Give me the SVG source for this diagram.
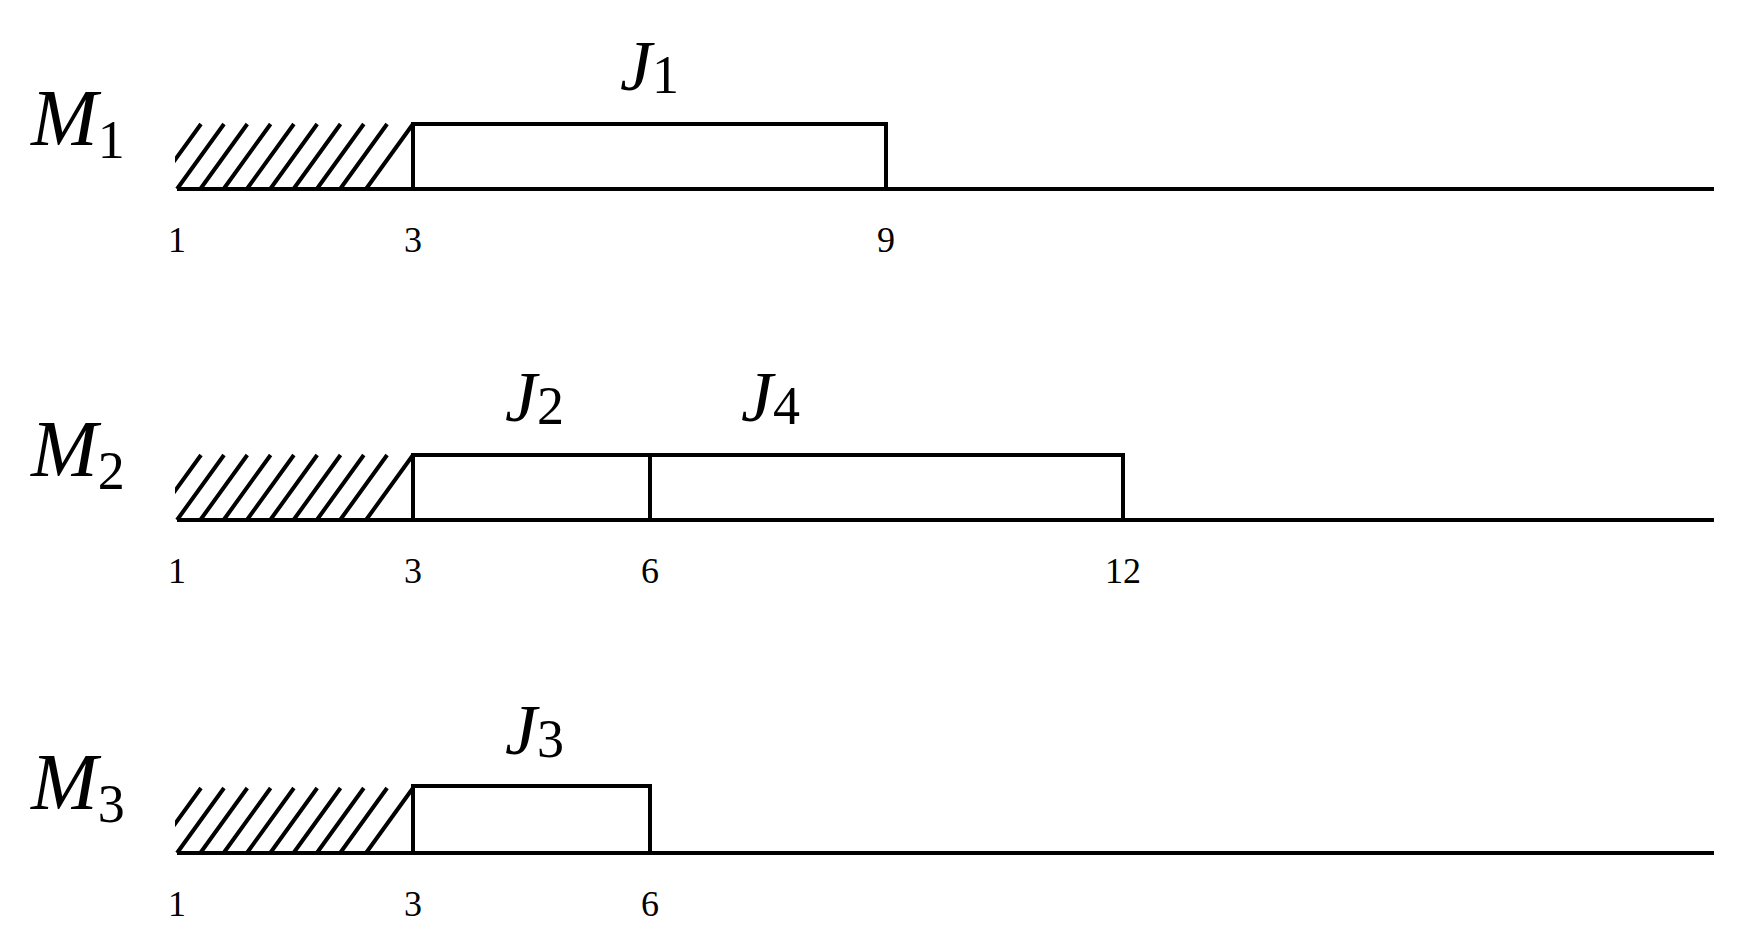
<svg xmlns="http://www.w3.org/2000/svg" width="1741" height="934" viewBox="0 0 1741 934">
<defs>
<style>
.ln{stroke:#000;stroke-width:4;fill:none}
.bx{stroke:#000;stroke-width:4;fill:#fff}
.m{font-family:"Liberation Serif",serif;font-style:italic;font-size:80px}
.j{font-family:"Liberation Serif",serif;font-style:italic;font-size:72px}
.sub{font-family:"Liberation Serif",serif;font-style:normal;font-size:54px}
.t{font-family:"Liberation Serif",serif;font-size:36px;text-anchor:middle}
</style>
<clipPath id="hc"><rect x="175" y="120" width="240" height="72"/></clipPath>
<g id="hatch" class="ln" clip-path="url(#hc)">
<path d="M154,189 L201,124 M177,189 L224,124 M200.3,189 L247.3,124 M223.6,189 L270.6,124 M246.9,189 L293.9,124 M270.2,189 L317.2,124 M293.5,189 L340.5,124 M316.8,189 L363.8,124 M340.1,189 L387.1,124 M366,189 L413,124"/>
</g>
</defs>
<rect width="1741" height="934" fill="#fff"/>
<g id="M1">
<text class="m" x="31" y="145">M<tspan class="sub" dy="13">1</tspan></text>
<use href="#hatch"/>
<line class="ln" x1="177" y1="189" x2="1714" y2="189"/>
<rect id="J1" class="bx" x="413" y="124" width="473" height="65"/>
<text class="j" x="620" y="90">J<tspan class="sub" dy="3">1</tspan></text>
<text class="t" x="177" y="252">1</text><text class="t" x="413" y="252">3</text><text class="t" x="886" y="252">9</text>
</g>
<g id="M2">
<text class="m" x="31" y="476">M<tspan class="sub" dy="13">2</tspan></text>
<use href="#hatch" y="331"/>
<line class="ln" x1="177" y1="520" x2="1714" y2="520"/>
<rect id="J2" class="bx" x="413" y="455" width="237" height="65"/>
<rect id="J4" class="bx" x="650" y="455" width="473" height="65"/>
<text class="j" x="505" y="421">J<tspan class="sub" dy="3">2</tspan></text>
<text class="j" x="741" y="421">J<tspan class="sub" dy="3">4</tspan></text>
<text class="t" x="177" y="583">1</text><text class="t" x="413" y="583">3</text><text class="t" x="650" y="583">6</text><text class="t" x="1123" y="583">12</text>
</g>
<g id="M3">
<text class="m" x="31" y="809">M<tspan class="sub" dy="13">3</tspan></text>
<use href="#hatch" y="664"/>
<line class="ln" x1="177" y1="853" x2="1714" y2="853"/>
<rect id="J3" class="bx" x="413" y="786" width="237" height="67"/>
<text class="j" x="505" y="754">J<tspan class="sub" dy="3">3</tspan></text>
<text class="t" x="177" y="916">1</text><text class="t" x="413" y="916">3</text><text class="t" x="650" y="916">6</text>
</g>
<g id="connectors"/>
</svg>
